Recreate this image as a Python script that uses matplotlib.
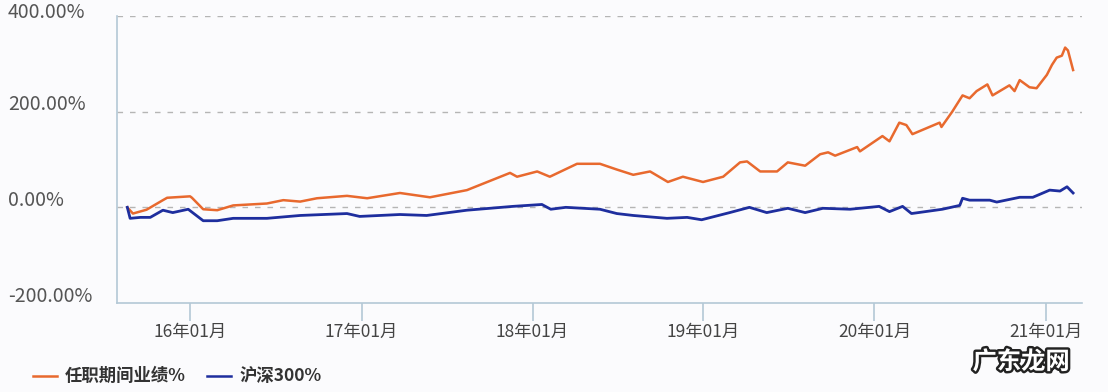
import matplotlib
matplotlib.use("Agg")
import matplotlib.pyplot as plt
import matplotlib.patheffects as pe
import pandas as pd

plt.rcParams['font.family'] = ['Noto Sans CJK SC', 'DejaVu Sans']

fund_dates = ["2015-08-20", "2015-09-01", "2015-09-30", "2015-11-04", "2015-11-13", "2016-01-01",
              "2016-01-05", "2016-01-29", "2016-02-28", "2016-04-02", "2016-06-13", "2016-07-18",
              "2016-08-23", "2016-09-28", "2016-12-01", "2017-01-13", "2017-03-24", "2017-05-27",
              "2017-08-14", "2017-11-14", "2017-11-29", "2018-01-11", "2018-02-07", "2018-04-06",
              "2018-05-25", "2018-06-30", "2018-08-04", "2018-09-09", "2018-10-17", "2018-11-18",
              "2018-12-31", "2019-02-12", "2019-03-20", "2019-04-04", "2019-05-02", "2019-06-07",
              "2019-06-30", "2019-08-06", "2019-09-07", "2019-09-24", "2019-10-09", "2019-11-25",
              "2019-12-01", "2020-01-18", "2020-02-02", "2020-02-23", "2020-03-09", "2020-03-22",
              "2020-05-19", "2020-05-23", "2020-06-15", "2020-07-07", "2020-07-22", "2020-08-06",
              "2020-08-29", "2020-09-09", "2020-10-15", "2020-10-26", "2020-11-06", "2020-11-27",
              "2020-12-12", "2021-01-03", "2021-01-14", "2021-01-24", "2021-02-04", "2021-02-11",
              "2021-02-17", "2021-02-28"]
fund_values = [0, -13, -5, 15, 20, 23,
               20, -4, -6, 4, 8, 15,
               12, 19, 24, 19, 30, 21,
               36, 72, 64, 75, 64, 91,
               91, 79, 68, 75, 53, 64,
               53, 64, 94, 96, 75, 75,
               94, 87, 111, 115, 108, 126,
               117, 149, 138, 177, 172, 153,
               177, 168, 200, 234, 228, 243,
               257, 234, 255, 243, 266, 251,
               249, 277, 298, 313, 317, 334,
               328, 287]

hs300_dates = ["2015-08-20", "2015-08-26", "2015-09-17", "2015-10-08", "2015-11-04", "2015-11-25",
               "2015-12-28", "2016-01-29", "2016-02-28", "2016-04-02", "2016-06-13", "2016-08-23",
               "2016-12-01", "2016-12-28", "2017-03-24", "2017-05-20", "2017-08-14", "2017-11-20",
               "2018-01-21", "2018-02-09", "2018-03-13", "2018-05-25", "2018-06-30", "2018-08-04",
               "2018-10-15", "2018-11-27", "2018-12-28", "2019-02-26", "2019-04-09", "2019-05-16",
               "2019-06-30", "2019-08-06", "2019-09-13", "2019-11-10", "2020-01-11", "2020-02-02",
               "2020-03-01", "2020-03-20", "2020-05-25", "2020-07-01", "2020-07-07", "2020-07-22",
               "2020-09-03", "2020-09-18", "2020-11-06", "2020-12-04", "2021-01-09", "2021-01-31",
               "2021-02-15", "2021-02-28"]
hs300_values = [0, -23, -21, -21, -6, -11,
                -4, -28, -28, -23, -23, -17,
                -13, -19, -15, -17, -6, 2,
                6, -4, 0, -4, -13, -17,
                -23, -21, -26, -11, 0, -11,
                -2, -11, -2, -4, 2, -9,
                2, -13, -4, 4, 19, 15,
                15, 11, 21, 21, 36, 34,
                43, 30]

tick_dates = ["2016-01-01", "2017-01-01", "2018-01-01", "2019-01-01", "2020-01-01", "2021-01-01"]
tick_labels = ["16年01月", "17年01月", "18年01月", "19年01月", "20年01月", "21年01月"]
y_ticks = [-200, 0, 200, 400]
y_labels = ["-200.00%", "0.00%", "200.00%", "400.00%"]
series_names = ["任职期间业绩%", "沪深300%"]

W, H = 1108, 392
fig = plt.figure(figsize=(W / 100, H / 100), dpi=100)
fig.patch.set_facecolor("#FBFBFD")
ax = fig.add_axes([117 / W, 1 - 303 / H, (1082 - 117) / W, (303 - 16) / H])
ax.set_facecolor("#FBFBFD")

orange = "#E8692E"
blue = "#1E2E9E"

ax.plot(pd.to_datetime(fund_dates), fund_values, color=orange, lw=1.8, zorder=3)
ax.plot(pd.to_datetime(hs300_dates), hs300_values, color=blue, lw=2.0, zorder=3)

ax.set_ylim(-200, 400)
ax.set_xlim(pd.Timestamp("2015-07-29"), pd.Timestamp("2021-03-19"))

for yv in [0, 200, 400]:
    ax.axhline(yv, color="#B5B5B5", lw=1.0, dashes=(4, 5), zorder=1)

for s in ["top", "right"]:
    ax.spines[s].set_visible(False)
for s in ["left", "bottom"]:
    ax.spines[s].set_color("#B4C8D6")
    ax.spines[s].set_linewidth(1.2)

ax.set_yticks(y_ticks)
ax.set_yticklabels([])
ax.tick_params(axis="y", length=0)

ax.set_xticks(pd.to_datetime(tick_dates))
ax.set_xticklabels(tick_labels, fontsize=12.5, color="#444444")
ax.tick_params(axis="x", length=13, width=1.2, color="#B4C8D6", pad=1)

# y labels, left aligned near figure edge, slightly above the lines
for yv, lab in zip(y_ticks, y_labels):
    gy = 303 - (yv + 200) / 600 * 287
    cy = max(gy - 7, 12)
    fig.text(8 / W, 1 - cy / H, lab, ha="left", va="center", fontsize=14, color="#555555")

# legend
ly = 1 - 376 / H
fig.add_artist(plt.Line2D([33 / W, 57 / W], [ly, ly], color=orange, lw=1.8))
fig.text(65 / W, ly, series_names[0], ha="left", va="center", fontsize=12.5,
         color="#333333", fontweight="bold")
fig.add_artist(plt.Line2D([207 / W, 231 / W], [ly, ly], color=blue, lw=1.8))
fig.text(240 / W, ly, series_names[1], ha="left", va="center", fontsize=12.5,
         color="#333333", fontweight="bold")

# watermark
fig.text(1021 / W, 1 - 362 / H, "广东龙网", ha="center", va="center", fontsize=17.5,
         color="white", fontweight="bold",
         path_effects=[pe.withStroke(linewidth=3.5, foreground="#222222")])

fig.savefig("out.png", dpi=100, facecolor=fig.get_facecolor())
